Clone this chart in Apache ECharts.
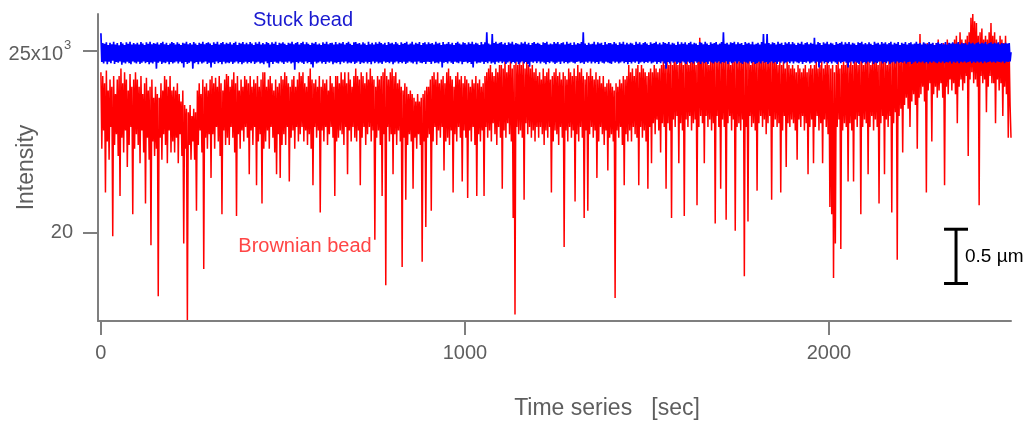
<!DOCTYPE html>
<html>
<head>
<meta charset="utf-8">
<script src="https://cdn.jsdelivr.net/npm/echarts@6.0.0/dist/echarts.min.js"></script>
<style>
  html, body { margin: 0; padding: 0; background: #ffffff; }
  #chart { width: 1032px; height: 422px; }
</style>
</head>
<body>
<div id="chart"></div>
<script>
// Sampling interval of both traces, in seconds
const timeStep = 2.5;

// Axis ticks
const xTicks = [0, 1000, 2000];
const yTicks = [20, 25];

// Intensity of the freely moving (Brownian) bead, x10^3 counts, one value per 2.5 s (one row = 50 s)
const brownianBead = [
  24.4,22.3, 24.3,22.8, 24.1,21.1, 24.45,22.5, 23.9,22.0, 24.2,22.9, 24.0,19.9, 24.3,22.4, 23.8,22.7, 24.2,22.1,
  24.3,21.0, 24.5,22.6, 24.1,22.2, 24.4,22.8, 24.2,21.8, 23.9,22.4, 24.35,22.9, 24.0,20.5, 24.2,22.3, 24.4,22.7,
  24.2,22.4, 24.0,21.9, 24.3,22.8, 23.8,22.2, 24.1,20.8, 24.25,22.6, 23.9,22.0, 24.0,19.65, 24.2,22.5, 23.7,22.1,
  24.0,22.3, 23.8,18.25, 23.7,22.6, 24.1,22.0, 23.9,22.7, 24.3,22.4, 24.2,21.9, 24.0,22.8, 24.3,22.2, 23.9,22.5,
  24.0,22.2, 23.9,22.6, 24.1,21.9, 23.8,22.7, 23.6,22.1, 23.9,19.7, 23.5,22.3, 23.4,17.6, 23.3,22.4, 23.5,22.0,
  23.2,22.5, 23.4,22.0, 23.3,20.6, 23.9,22.4, 24.1,22.8, 23.8,22.2, 24.2,19.0, 24.0,22.6, 24.1,22.3, 23.9,22.7,
  24.2,21.5, 24.3,22.7, 24.1,22.3, 24.25,22.9, 24.0,22.5, 24.3,22.1, 24.1,20.5, 23.9,22.8, 24.2,22.4, 24.35,22.6,
  24.3,22.4, 24.0,22.9, 24.2,22.6, 24.4,22.2, 24.1,20.45, 24.3,22.7, 23.9,22.3, 24.2,22.8, 24.0,22.5, 24.3,22.9,
  24.2,22.6, 24.1,21.6, 24.3,22.8, 24.0,22.4, 24.2,22.9, 24.1,21.3, 24.3,22.5, 24.0,22.7, 24.2,20.8, 24.4,22.3,
  24.4,22.5, 24.0,22.8, 24.2,22.3, 24.3,22.9, 24.1,22.6, 23.9,22.2, 24.2,21.6, 24.0,22.7, 24.1,21.5, 24.3,22.4,
  24.2,22.7, 24.4,22.4, 24.3,22.9, 24.1,21.4, 24.0,22.6, 24.2,22.8, 24.3,22.3, 24.0,22.9, 24.2,22.5, 24.4,22.7,
  24.3,22.9, 24.4,22.5, 24.1,22.8, 24.0,22.4, 24.3,22.7, 24.5,22.3, 24.2,21.3, 24.1,22.9, 24.2,22.6, 24.0,22.8,
  24.3,20.55, 24.0,22.8, 24.2,22.5, 24.1,22.9, 24.2,22.4, 23.9,22.7, 24.3,22.9, 24.1,22.6, 24.0,21.0, 24.3,22.5,
  24.3,22.6, 24.1,22.8, 24.4,22.7, 24.2,22.4, 24.4,22.9, 24.1,21.6, 24.4,22.8, 24.2,22.5, 24.0,22.9, 24.3,22.6,
  24.5,22.5, 24.3,22.8, 24.2,21.3, 24.4,22.6, 24.3,22.9, 24.1,22.4, 24.4,22.7, 24.2,22.9, 24.5,22.5, 24.3,22.8,
  24.2,19.8, 24.0,22.6, 24.3,22.8, 24.2,22.4, 24.3,21.0, 24.4,22.7, 24.5,18.55, 24.3,22.9, 24.2,22.5, 24.4,22.7,
  24.5,21.6, 24.3,22.7, 24.4,22.4, 24.1,22.8, 24.2,22.5, 24.0,19.05, 23.9,22.6, 24.1,20.9, 24.0,22.4, 23.8,22.7,
  23.9,22.5, 23.8,21.2, 23.7,22.6, 23.6,22.3, 23.8,22.7, 23.6,22.4, 23.7,19.2, 23.8,22.5, 23.9,20.15, 24.0,22.6,
  24.0,22.7, 24.2,20.6, 24.3,22.5, 24.4,22.9, 24.2,22.4, 24.4,22.8, 24.1,22.6, 24.2,22.9, 24.3,21.7, 24.1,22.5,
  24.4,22.6, 24.5,22.4, 24.3,22.8, 24.2,21.1, 24.0,22.7, 24.3,22.5, 24.4,22.9, 24.2,22.6, 24.3,21.4, 24.1,22.8,
  24.3,22.6, 24.2,20.95, 24.1,22.8, 24.0,22.5, 24.2,22.9, 24.1,22.4, 24.3,21.0, 24.1,22.7, 24.2,22.5, 24.0,22.8,
  24.1,21.0, 24.3,22.9, 24.4,22.6, 24.5,22.8, 24.6,22.5, 24.4,23.0, 24.3,22.7, 24.5,22.4, 24.4,22.9, 24.6,22.6,
  24.6,21.2, 24.5,22.8, 24.7,22.6, 24.4,23.0, 24.6,22.7, 24.7,22.5, 24.5,20.4, 24.6,17.75, 24.7,22.9, 24.6,22.7,
  24.7,22.8, 24.6,22.6, 24.7,20.9, 24.5,23.0, 24.7,22.7, 24.6,22.9, 24.5,22.6, 24.6,22.8, 24.4,22.5, 24.5,22.9,
  24.3,22.6, 24.4,22.9, 24.2,22.7, 24.5,22.4, 24.3,22.8, 24.4,22.6, 24.5,22.9, 24.2,21.1, 24.3,22.5, 24.4,22.8,
  24.5,22.7, 24.3,22.4, 24.4,22.9, 24.2,22.6, 24.4,19.6, 24.3,22.8, 24.2,22.5, 24.5,22.9, 24.4,22.6, 24.3,22.8,
  24.5,20.85, 24.3,22.7, 24.6,22.5, 24.4,22.9, 24.5,22.6, 24.3,20.4, 24.2,22.8, 24.4,20.6, 24.3,22.7, 24.5,22.9,
  24.3,22.6, 24.2,22.8, 24.4,21.5, 24.2,22.5, 24.3,22.9, 24.1,22.7, 24.3,22.4, 24.0,22.8, 24.1,21.7, 24.2,22.6,
  24.1,22.7, 24.0,22.5, 23.9,18.2, 24.1,22.8, 24.0,22.6, 24.2,22.9, 24.1,22.4, 24.3,21.3, 24.2,22.7, 24.3,22.5,
  24.6,22.8, 24.4,22.5, 24.5,22.9, 24.3,22.7, 24.5,22.6, 24.6,21.3, 24.4,22.9, 24.6,22.6, 24.5,22.8, 24.4,22.5,
  24.3,21.2, 24.4,22.9, 24.5,21.9, 24.4,23.0, 24.6,22.7, 24.5,23.1, 24.4,22.8, 24.5,22.2, 24.6,23.0, 24.7,22.9,
  24.6,21.2, 24.7,23.0, 24.6,22.8, 24.7,20.4, 24.6,23.1, 24.8,22.9, 24.7,23.2, 24.6,21.9, 24.7,23.0, 24.8,22.8,
  24.6,20.45, 24.7,23.1, 24.8,22.9, 24.6,23.2, 24.7,22.8, 24.8,23.0, 24.7,23.1, 24.6,20.75, 24.8,22.9, 25.35,23.2,
  24.7,23.0, 24.8,21.9, 24.7,23.2, 24.8,22.9, 24.6,23.1, 24.8,22.8, 24.7,23.0, 24.8,20.25, 24.7,23.2, 24.8,22.9,
  24.7,21.2, 24.8,23.1, 24.7,22.9, 24.8,20.35, 24.7,23.0, 24.8,23.2, 24.6,22.8, 24.8,23.1, 24.7,20.05, 24.8,22.9,
  24.8,23.0, 24.7,22.8, 24.8,23.1, 24.7,18.8, 24.8,22.9, 24.7,20.3, 24.8,23.2, 24.6,22.9, 24.8,23.0, 24.7,22.8,
  24.7,21.15, 24.8,23.0, 24.7,23.2, 24.8,22.9, 24.7,23.1, 24.8,22.7, 24.7,23.0, 24.8,23.2, 24.7,20.9, 24.8,22.9,
  24.8,23.1, 24.7,22.9, 24.6,23.0, 24.7,21.1, 24.6,22.8, 24.7,23.2, 24.5,21.8, 24.7,23.0, 24.6,22.9, 24.5,23.1,
  24.6,23.0, 24.5,22.8, 24.4,22.0, 24.6,23.1, 24.5,22.9, 24.4,23.2, 24.5,22.8, 24.6,23.0, 24.4,21.6, 24.5,22.9,
  24.6,23.1, 24.5,21.9, 24.6,22.9, 24.7,23.2, 24.5,22.8, 24.6,23.0, 24.7,21.9, 24.5,23.1, 24.6,22.9, 24.7,22.7,
  24.6,20.7, 24.5,20.5, 24.6,18.75, 24.4,19.7, 24.6,22.9, 24.7,23.1, 24.5,19.55, 24.6,22.8, 24.7,23.0, 24.6,22.9,
  24.7,21.4, 24.6,23.0, 24.7,22.8, 24.6,21.4, 24.8,23.1, 24.7,22.9, 24.6,23.2, 24.7,20.5, 24.8,22.9, 24.6,23.1,
  24.7,23.0, 24.8,21.6, 24.7,22.9, 24.6,23.2, 24.8,22.8, 24.7,23.1, 24.8,22.9, 24.6,20.8, 24.7,23.0, 24.8,23.2,
  24.7,21.6, 24.8,23.1, 24.6,22.9, 24.8,23.2, 24.7,20.55, 24.8,23.0, 24.7,23.3, 24.8,19.25, 24.9,23.2, 24.8,23.4,
  24.8,22.2, 24.9,23.5, 24.8,23.7, 25.0,23.4, 24.9,22.9, 24.8,23.6, 25.0,23.8, 24.9,23.5, 25.1,22.3, 25.0,23.7,
  25.45,23.8, 25.1,24.0, 25.2,23.6, 25.0,21.1, 25.2,23.9, 25.1,24.1, 25.0,22.5, 25.2,23.8, 25.1,24.0, 25.2,23.7,
  25.3,23.9, 25.1,24.1, 25.0,23.7, 25.2,21.3, 25.1,24.0, 25.3,23.8, 25.2,24.2, 25.1,23.9, 25.2,24.1, 25.3,23.8,
  25.4,23.0, 25.2,24.0, 25.5,24.2, 25.3,23.9, 25.2,24.1, 25.3,24.3, 25.4,22.1, 25.5,24.2, 25.9,24.4, 26.0,24.1,
  25.8,24.2, 25.75,24.0, 25.4,20.75, 25.5,24.3, 25.6,24.1, 25.3,24.2, 25.4,23.3, 25.3,24.0, 25.5,24.3, 25.75,24.1,
  25.4,24.1, 25.5,23.0, 25.3,24.2, 25.2,23.9, 25.4,24.1, 25.3,23.2, 25.2,24.0, 25.4,23.8, 25.1,22.6, 25.0,23.5,
  22.6
];

// Intensity of the bead stuck to the surface, x10^3 counts, one value per 2.5 s (one row = 50 s)
const stuckBead = [
  25.47,24.68, 25.2,24.64, 25.18,24.7, 25.22,24.62, 25.15,24.69, 25.21,24.65, 25.17,24.72, 25.24,24.63, 25.16,24.68, 25.2,24.66,
  25.14,24.7, 25.23,24.61, 25.19,24.67, 25.15,24.64, 25.22,24.69, 25.18,24.65, 25.24,24.62, 25.16,24.7, 25.2,24.67, 25.17,24.64,
  25.21,24.69, 25.16,24.63, 25.23,24.66, 25.19,24.7, 25.15,24.65, 25.22,24.68, 25.18,24.62, 25.24,24.67, 25.17,24.64, 25.2,24.69,
  25.18,24.5, 25.22,24.66, 25.16,24.7, 25.2,24.63, 25.24,24.67, 25.17,24.65, 25.21,24.69, 25.15,24.62, 25.19,24.68, 25.23,24.64,
  25.2,24.67, 25.16,24.7, 25.22,24.64, 25.18,24.69, 25.15,24.65, 25.21,24.53, 25.19,24.68, 25.24,24.63, 25.17,24.66, 25.2,24.7,
  25.16,24.5, 25.23,24.65, 25.19,24.68, 25.15,24.62, 25.21,24.69, 25.18,24.64, 25.24,24.67, 25.17,24.7, 25.2,24.63, 25.22,24.66,
  25.19,24.53, 25.15,24.67, 25.22,24.63, 25.18,24.7, 25.24,24.65, 25.16,24.68, 25.2,24.62, 25.23,24.69, 25.17,24.64, 25.21,24.67,
  25.18,24.65, 25.22,24.69, 25.16,24.63, 25.2,24.67, 25.24,24.7, 25.15,24.64, 25.21,24.68, 25.19,24.62, 25.23,24.66, 25.17,24.69,
  25.21,24.64, 25.17,24.68, 25.23,24.65, 25.19,24.7, 25.15,24.63, 25.22,24.67, 25.18,24.69, 25.24,24.64, 25.16,24.66, 25.2,24.62,
  25.17,24.7, 25.23,24.65, 25.2,24.53, 25.16,24.68, 25.22,24.63, 25.18,24.69, 25.24,24.66, 25.15,24.64, 25.21,24.7, 25.19,24.67,
  25.22,24.63, 25.18,24.69, 25.15,24.66, 25.21,24.7, 25.19,24.64, 25.24,24.67, 25.17,24.47, 25.2,24.68, 25.23,24.65, 25.16,24.69,
  25.2,24.66, 25.24,24.63, 25.17,24.7, 25.22,24.65, 25.18,24.68, 25.15,24.62, 25.21,24.53, 25.19,24.69, 25.23,24.64, 25.16,24.67,
  25.19,24.7, 25.15,24.64, 25.22,24.68, 25.18,24.63, 25.24,24.69, 25.17,24.66, 25.2,24.7, 25.21,24.62, 25.16,24.67, 25.23,24.65,
  25.17,24.68, 25.21,24.62, 25.19,24.69, 25.23,24.66, 25.16,24.7, 25.2,24.64, 25.24,24.67, 25.18,24.65, 25.15,24.69, 25.22,24.63,
  25.23,24.66, 25.18,24.7, 25.2,24.63, 25.16,24.67, 25.22,24.65, 25.19,24.69, 25.15,24.64, 25.24,24.68, 25.17,24.62, 25.21,24.7,
  25.16,24.65, 25.22,24.69, 25.18,24.64, 25.24,24.67, 25.2,24.63, 25.17,24.7, 25.21,24.66, 25.15,24.68, 25.23,24.65, 25.19,24.69,
  25.21,24.62, 25.17,24.67, 25.23,24.7, 25.19,24.64, 25.15,24.68, 25.22,24.65, 25.18,24.69, 25.2,24.63, 25.24,24.66, 25.16,24.7,
  25.19,24.67, 25.24,24.64, 25.16,24.69, 25.21,24.62, 25.18,24.7, 25.23,24.66, 25.15,24.65, 25.2,24.68, 25.22,24.63, 25.17,24.69,
  25.22,24.68, 25.18,24.63, 25.2,24.7, 25.16,24.65, 25.24,24.67, 25.19,24.64, 25.21,24.69, 25.15,24.53, 25.23,24.66, 25.17,24.68,
  25.18,24.64, 25.23,24.7, 25.17,24.66, 25.21,24.63, 25.15,24.69, 25.2,24.67, 25.24,24.65, 25.19,24.7, 25.16,24.62, 25.22,24.68,
  25.2,24.69, 25.16,24.65, 25.22,24.68, 25.18,24.63, 25.24,24.53, 25.17,24.7, 25.21,24.64, 25.19,24.67, 25.15,24.66, 25.23,24.69,
  25.17,24.63, 25.22,24.68, 25.5,24.65, 25.19,24.7, 25.16,24.64, 25.45,24.67, 25.2,24.62, 25.24,24.69, 25.18,24.66, 25.21,24.7,
  25.23,24.65, 25.17,24.69, 25.21,24.63, 25.15,24.67, 25.22,24.7, 25.19,24.64, 25.24,24.68, 25.16,24.65, 25.2,24.69, 25.18,24.62,
  25.16,24.67, 25.22,24.7, 25.19,24.64, 25.24,24.68, 25.17,24.63, 25.21,24.55, 25.15,24.69, 25.2,24.66, 25.23,24.7, 25.18,24.65,
  25.21,24.7, 25.18,24.64, 25.15,24.69, 25.22,24.66, 25.2,24.62, 25.24,24.68, 25.16,24.65, 25.19,24.7, 25.17,24.67, 25.23,24.63,
  25.19,24.66, 25.23,24.69, 25.17,24.63, 25.2,24.7, 25.22,24.65, 25.16,24.68, 25.24,24.64, 25.18,24.67, 25.21,24.69, 25.15,24.66,
  25.22,24.64, 25.16,24.68, 25.2,24.7, 25.18,24.65, 25.23,24.67, 25.5,24.63, 25.19,24.69, 25.15,24.66, 25.21,24.7, 25.17,24.64,
  25.18,24.69, 25.24,24.65, 25.16,24.68, 25.22,24.63, 25.19,24.7, 25.21,24.66, 25.15,24.64, 25.23,24.69, 25.17,24.67, 25.2,24.65,
  25.2,24.63, 25.17,24.7, 25.23,24.66, 25.19,24.69, 25.15,24.64, 25.22,24.67, 25.18,24.7, 25.24,24.65, 25.16,24.68, 25.21,24.62,
  25.17,24.68, 25.21,24.64, 25.19,24.69, 25.15,24.66, 25.24,24.7, 25.18,24.63, 25.22,24.67, 25.16,24.69, 25.2,24.65, 25.23,24.68,
  25.19,24.66, 25.15,24.7, 25.22,24.64, 25.18,24.67, 25.2,24.69, 25.24,24.63, 25.17,24.68, 25.21,24.65, 25.16,24.7, 25.23,24.64,
  25.2,24.5, 25.18,24.68, 25.23,24.64, 25.16,24.7, 25.21,24.66, 25.19,24.69, 25.15,24.63, 25.24,24.67, 25.17,24.65, 25.22,24.7,
  25.18,24.67, 25.22,24.63, 25.16,24.69, 25.2,24.65, 25.24,24.68, 25.17,24.64, 25.21,24.7, 25.19,24.66, 25.15,24.69, 25.23,24.63,
  25.21,24.69, 25.17,24.65, 25.24,24.68, 25.19,24.63, 25.15,24.7, 25.22,24.67, 25.18,24.64, 25.2,24.69, 25.23,24.66, 25.16,24.7,
  25.19,24.64, 25.23,24.68, 25.5,24.66, 25.18,24.7, 25.21,24.63, 25.16,24.69, 25.22,24.65, 25.2,24.67, 25.24,24.7, 25.17,24.64,
  25.22,24.7, 25.18,24.66, 25.2,24.63, 25.15,24.69, 25.23,24.67, 25.19,24.64, 25.21,24.7, 25.17,24.65, 25.24,24.68, 25.16,24.63,
  25.18,24.65, 25.21,24.69, 25.16,24.64, 25.23,24.7, 25.45,24.66, 25.19,24.68, 25.45,24.63, 25.2,24.67, 25.17,24.7, 25.22,24.65,
  25.2,24.68, 25.16,24.63, 25.24,24.69, 25.18,24.66, 25.21,24.7, 25.15,24.64, 25.22,24.67, 25.19,24.69, 25.23,24.65, 25.17,24.7,
  25.23,24.64, 25.19,24.7, 25.15,24.67, 25.21,24.65, 25.18,24.69, 25.24,24.63, 25.16,24.68, 25.2,24.66, 25.22,24.7, 25.17,24.64,
  25.21,24.67, 25.18,24.7, 25.35,24.65, 25.16,24.69, 25.23,24.53, 25.2,24.66, 25.15,24.7, 25.22,24.64, 25.19,24.68, 25.24,24.65,
  25.17,24.69, 25.21,24.64, 25.19,24.7, 25.15,24.67, 25.23,24.63, 25.18,24.69, 25.2,24.65, 25.24,24.68, 25.16,24.7, 25.22,24.66,
  25.18,24.53, 25.23,24.67, 25.16,24.7, 25.21,24.64, 25.19,24.69, 25.15,24.66, 25.22,24.63, 25.2,24.7, 25.24,24.65, 25.17,24.68,
  25.2,24.64, 25.17,24.69, 25.22,24.66, 25.18,24.7, 25.15,24.63, 25.24,24.67, 25.19,24.65, 25.21,24.69, 25.16,24.7, 25.23,24.64,
  25.19,24.68, 25.22,24.65, 25.17,24.7, 25.2,24.63, 25.24,24.67, 25.16,24.69, 25.21,24.64, 25.18,24.7, 25.23,24.66, 25.15,24.68,
  25.21,24.66, 25.18,24.7, 25.23,24.64, 25.16,24.68, 25.2,24.69, 25.22,24.63, 25.17,24.67, 25.19,24.7, 25.24,24.65, 25.18,24.69,
  25.2,24.67, 25.16,24.7, 25.22,24.65, 25.19,24.68, 25.17,24.64, 25.23,24.69, 25.18,24.66, 25.21,24.7, 25.15,24.67, 25.2,24.65,
  25.22,24.69, 25.18,24.66, 25.2,24.7, 25.17,24.65, 25.23,24.68, 25.16,24.67, 25.21,24.7, 25.19,24.64, 25.22,24.69, 25.18,24.66,
  25.19,24.7, 25.23,24.65, 25.17,24.69, 25.21,24.67, 25.18,24.7, 25.2,24.66, 25.16,24.68, 25.22,24.7, 25.19,24.65, 25.21,24.69,
  25.17,24.66, 25.2,24.7, 25.22,24.67, 25.18,24.69, 25.21,24.65, 25.19,24.7, 25.23,24.66, 25.17,24.68, 25.2,24.7, 25.22,24.67,
  25.18,24.69, 25.21,24.66, 25.19,24.7, 25.22,24.68, 25.17,24.67, 25.2,24.7, 25.18,24.65, 25.21,24.69, 25.19,24.68, 25.2,24.7,
  24.95
];

// 0.5 µm scale bar: time position, lower end, upper end (intensity units)
const scaleBar = [2349, 18.6, 20.09];

const FONT = '"Liberation Sans", Arial, Helvetica, sans-serif';
const AXIS_GREY = '#7f7f7f';
const TEXT_GREY = '#5e5e5e';

const toPairs = arr => arr.map((v, i) => [i * timeStep, v]);

const chart = echarts.init(document.getElementById('chart'), null, { renderer: 'canvas' });

chart.setOption({
  animation: false,
  backgroundColor: '#ffffff',
  grid: { left: 98, right: 21, top: 14, bottom: 101, containLabel: false, outerBoundsMode: 'none' },
  xAxis: {
    type: 'value',
    min: -8,
    max: 2500,
    splitLine: { show: false },
    axisLine: { show: true, onZero: false, lineStyle: { color: AXIS_GREY, width: 2 } },
    axisTick: { show: true, customValues: xTicks, length: 14, lineStyle: { color: AXIS_GREY, width: 2 } },
    axisLabel: {
      customValues: xTicks,
      formatter: v => String(v),
      margin: 22,
      color: TEXT_GREY,
      fontFamily: FONT,
      fontSize: 20
    },
    name: 'Time series   [sec]',
    nameLocation: 'middle',
    nameGap: 76,
    nameTextStyle: { color: TEXT_GREY, fontFamily: FONT, fontSize: 23, padding: [0, 0, 0, 105] }
  },
  yAxis: {
    type: 'value',
    min: 17.57,
    max: 26.0,
    splitLine: { show: false },
    axisLine: { show: true, onZero: false, lineStyle: { color: AXIS_GREY, width: 2 } },
    axisTick: { show: true, customValues: yTicks, length: 15, lineStyle: { color: AXIS_GREY, width: 2 } },
    axisLabel: {
      // the 25x10³ label carries a superscript and is drawn as text in `graphic` below
      customValues: yTicks.filter(v => v !== 25),
      margin: 25,
      color: TEXT_GREY,
      fontFamily: FONT,
      fontSize: 20
    },
    name: 'Intensity',
    nameLocation: 'middle',
    nameGap: 60,
    nameTextStyle: { color: TEXT_GREY, fontFamily: FONT, fontSize: 23 }
  },
  series: [
    {
      name: 'Brownian bead',
      type: 'line',
      data: toPairs(brownianBead),
      showSymbol: false,
      symbol: 'none',
      clip: false,
      silent: true,
      lineStyle: { color: '#ff0000', width: 1.5 },
      z: 2
    },
    {
      name: 'Stuck bead',
      type: 'line',
      data: toPairs(stuckBead),
      showSymbol: false,
      symbol: 'none',
      clip: false,
      silent: true,
      lineStyle: { color: '#0000ff', width: 1.7 },
      z: 3
    },
    {
      name: 'scale bar',
      type: 'custom',
      data: [scaleBar],
      encode: { x: 0, y: [1, 2] },
      silent: true,
      clip: false,
      z: 4,
      renderItem: (params, api) => {
        const top = api.coord([api.value(0), api.value(2)]);
        const bottom = api.coord([api.value(0), api.value(1)]);
        const cap = 12;
        const stroke = { stroke: '#000000', lineWidth: 3 };
        return {
          type: 'group',
          children: [
            { type: 'line', shape: { x1: top[0], y1: top[1], x2: bottom[0], y2: bottom[1] }, style: stroke },
            { type: 'line', shape: { x1: top[0] - cap, y1: top[1], x2: top[0] + cap, y2: top[1] }, style: stroke },
            { type: 'line', shape: { x1: bottom[0] - cap, y1: bottom[1], x2: bottom[0] + cap, y2: bottom[1] }, style: stroke }
          ]
        };
      }
    }
  ],
  graphic: [
    {
      type: 'text', x: 63, y: 54.5, z: 10,
      style: { text: '25x10', fill: TEXT_GREY, font: '20px ' + FONT, align: 'right', verticalAlign: 'middle', textAlign: 'right', textVerticalAlign: 'middle' }
    },
    {
      type: 'text', x: 64, y: 45, z: 10,
      style: { text: '3', fill: TEXT_GREY, font: '13px ' + FONT, align: 'left', verticalAlign: 'middle', textAlign: 'left', textVerticalAlign: 'middle' }
    },
    {
      type: 'text', x: 303, y: 20, z: 10,
      style: { text: 'Stuck bead', fill: '#1a1ad0', font: '20px ' + FONT, align: 'center', verticalAlign: 'middle', textAlign: 'center', textVerticalAlign: 'middle' }
    },
    {
      type: 'text', x: 305, y: 246, z: 10,
      style: { text: 'Brownian bead', fill: '#ff4545', font: '20px ' + FONT, align: 'center', verticalAlign: 'middle', textAlign: 'center', textVerticalAlign: 'middle' }
    },
    {
      type: 'text', x: 965, y: 257, z: 10,
      style: { text: '0.5 µm', fill: '#000000', font: '19px ' + FONT, align: 'left', verticalAlign: 'middle', textAlign: 'left', textVerticalAlign: 'middle' }
    }
  ]
});
</script>
</body>
</html>
